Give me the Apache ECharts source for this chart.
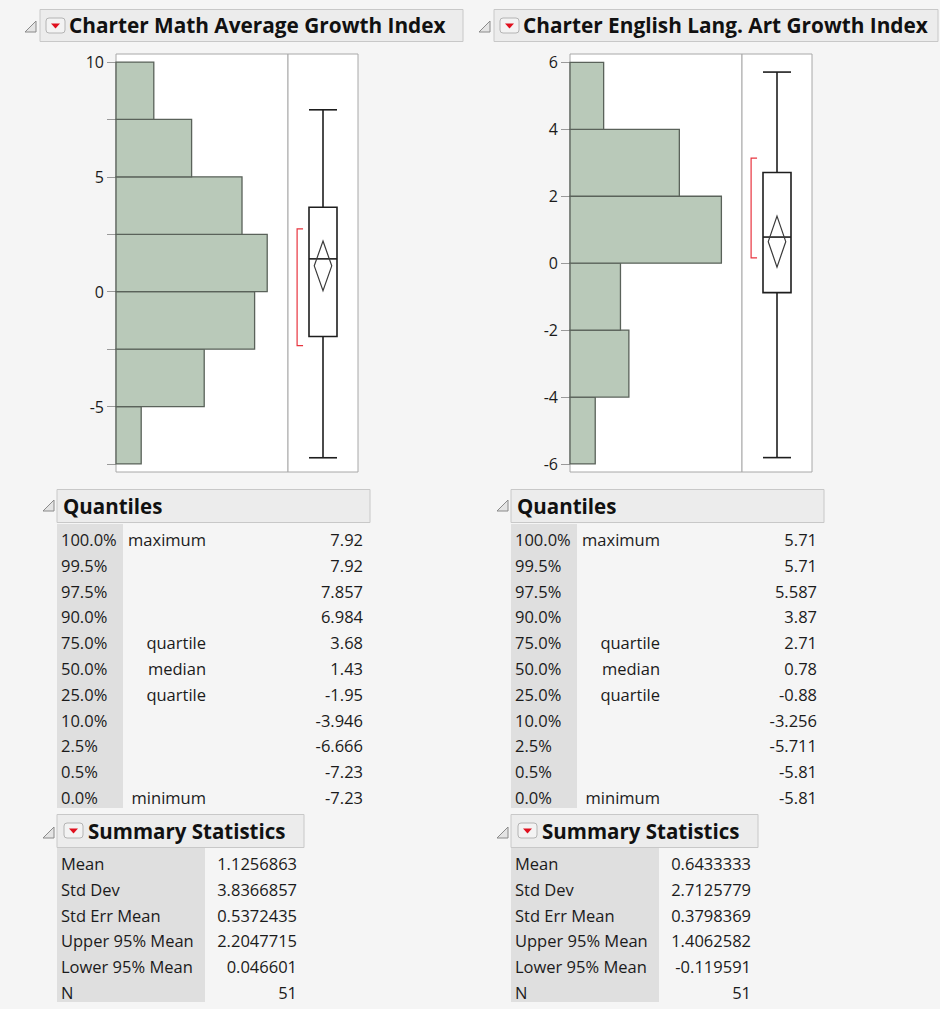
<!DOCTYPE html>
<html>
<head>
<meta charset="utf-8">
<script src="https://cdn.jsdelivr.net/npm/echarts@6/dist/echarts.min.js"></script>
<style>
  html, body { margin: 0; padding: 0; background: #f5f5f5; }
  #chart { width: 940px; height: 1009px; }
</style>
</head>
<body>
<div id="chart"></div>
<script>
// ---------------- DATA ----------------
const mathTitle = 'Charter Math Average Growth Index';
const elaTitle = 'Charter English Lang. Art Growth Index';

// histogram bins: lower edges, bin width, counts
const mathBinLo = [-7.5, -5, -2.5, 0, 2.5, 5, 7.5];
const mathBinWidth = 2.5;
const mathCounts = [2, 7, 11, 12, 10, 6, 3];

const elaBinLo = [-6, -4, -2, 0, 2, 4];
const elaBinWidth = 2;
const elaCounts = [3, 7, 6, 18, 13, 4];

// axis ticks
const mathTickValues = [-7.5, -5, -2.5, 0, 2.5, 5, 7.5, 10];
const mathTickLabels = [-5, 0, 5, 10];
const elaTickValues = [-6, -4, -2, 0, 2, 4, 6];
const elaTickLabels = [-6, -4, -2, 0, 2, 4, 6];

// quantiles table
const quantilePcts = ['100.0%', '99.5%', '97.5%', '90.0%', '75.0%', '50.0%', '25.0%', '10.0%', '2.5%', '0.5%', '0.0%'];
const quantileNames = ['maximum', '', '', '', 'quartile', 'median', 'quartile', '', '', '', 'minimum'];
const mathQuantiles = [7.92, 7.92, 7.857, 6.984, 3.68, 1.43, -1.95, -3.946, -6.666, -7.23, -7.23];
const elaQuantiles = [5.71, 5.71, 5.587, 3.87, 2.71, 0.78, -0.88, -3.256, -5.711, -5.81, -5.81];

// summary statistics
const summaryLabels = ['Mean', 'Std Dev', 'Std Err Mean', 'Upper 95% Mean', 'Lower 95% Mean', 'N'];
const mathSummary = ['1.1256863', '3.8366857', '0.5372435', '2.2047715', '0.046601', '51'];
const elaSummary = ['0.6433333', '2.7125779', '0.3798369', '1.4062582', '-0.119591', '51'];

// shortest half bracket
const mathShortestHalf = [-2.35, 2.74];
const elaShortestHalf = [0.16, 3.14];

// ---------------- LAYOUT ----------------
const FONT = '"Open Sans", "Noto Sans", sans-serif';
const panels = [
  { ox: 0, title: mathTitle, titleW: 423, binLo: mathBinLo, bw: mathBinWidth, counts: mathCounts,
    yMin: -7.85, yMax: 10.35, histMax: 13.65, ticks: mathTickValues, labels: mathTickLabels,
    quant: mathQuantiles, summ: mathSummary, half: mathShortestHalf },
  { ox: 454, title: elaTitle, titleW: 444, binLo: elaBinLo, bw: elaBinWidth, counts: elaCounts,
    yMin: -6.24, yMax: 6.25, histMax: 20.45, ticks: elaTickValues, labels: elaTickLabels,
    quant: elaQuantiles, summ: elaSummary, half: elaShortestHalf }
];

const grids = [], xAxes = [], yAxes = [], series = [], graphics = [];

function txt(text, x, y, opt) {
  opt = opt || {};
  return {
    type: 'text', silent: true, z: 10,
    style: {
      text: text, x: x, y: y,
      fontFamily: FONT, fontSize: opt.size || 16.5, fontWeight: opt.weight || 'normal',
      fill: opt.color || '#1b1b1b',
      align: opt.align || 'left', textAlign: opt.align || 'left',
      verticalAlign: 'middle', textVerticalAlign: 'middle'
    }
  };
}
function rect(x, y, w, h, fill, stroke, r) {
  return { type: 'rect', silent: true, z: 5,
    shape: { x: x, y: y, width: w, height: h, r: r || 0 },
    style: { fill: fill, stroke: stroke || null, lineWidth: 1 } };
}
function disclosure(x, y) { // small open-disclosure triangle
  return { type: 'polygon', silent: true, z: 6,
    shape: { points: [[x + 11, y], [x + 11, y + 11], [x, y + 11]] },
    style: { fill: '#e4e4e4', stroke: '#8a8a8a', lineWidth: 1 } };
}
function redMenu(x, y) {
  return [
    rect(x, y, 19, 15, '#f3f3f3', '#b4b4b4', 3),
    { type: 'polygon', silent: true, z: 7,
      shape: { points: [[x + 5, y + 5.5], [x + 14, y + 5.5], [x + 9.5, y + 10.5]] },
      style: { fill: '#e0101e' } }
  ];
}

panels.forEach(function (p, pi) {
  const ox = p.ox;
  // ----- title header -----
  graphics.push(disclosure(25 + ox, 21));
  graphics.push(rect(40 + ox, 9.5, p.titleW, 32, '#ececec', '#c8c8c8'));
  graphics.push.apply(graphics, redMenu(46 + ox, 18));
  graphics.push(txt(p.title, 69 + ox, 25, { size: 20.8, weight: 'bold', color: '#111' }));

  // ----- grids -----
  const gH = pi * 2, gB = pi * 2 + 1;
  grids.push({ left: 116 + ox, top: 54, width: 172, height: 418, show: true,
    backgroundColor: '#ffffff', borderColor: '#a8a8a8', borderWidth: 1 });
  grids.push({ left: 288 + ox, top: 54, width: 70, height: 418, show: true,
    backgroundColor: '#ffffff', borderColor: '#a8a8a8', borderWidth: 1 });

  xAxes.push({ gridIndex: gH, type: 'value', min: 0, max: p.histMax, show: false });
  xAxes.push({ gridIndex: gB, type: 'value', min: 0, max: 1, show: false });
  yAxes.push({ gridIndex: gH, type: 'value', min: p.yMin, max: p.yMax,
    axisLine: { show: false }, splitLine: { show: false },
    axisTick: { show: true, length: 9, customValues: p.ticks, lineStyle: { color: '#9a9a9a', width: 1 } },
    axisLabel: { show: true, customValues: p.labels, margin: 12, color: '#1b1b1b',
      fontSize: 16, fontFamily: FONT } });
  yAxes.push({ gridIndex: gB, type: 'value', min: p.yMin, max: p.yMax, show: false });

  // ----- histogram -----
  series.push({
    type: 'custom', xAxisIndex: gH, yAxisIndex: gH, z: 3,
    data: p.binLo.map(function (lo, i) { return [lo, lo + p.bw, p.counts[i]]; }),
    renderItem: function (params, api) {
      const a = api.coord([0, api.value(1)]);
      const b = api.coord([api.value(2), api.value(0)]);
      return { type: 'rect',
        shape: { x: a[0], y: a[1], width: b[0] - a[0], height: b[1] - a[1] },
        style: { fill: '#b9c9b9', stroke: '#5a625a', lineWidth: 1.3 } };
    }
  });

  // ----- box plot -----
  const q = p.quant;
  const boxRow = [q[10], q[6], q[5], q[4], q[0],
    parseFloat(p.summ[0]), parseFloat(p.summ[4]), parseFloat(p.summ[3]), p.half[0], p.half[1]];
  series.push({
    type: 'custom', xAxisIndex: gB, yAxisIndex: gB, z: 4,
    data: [boxRow],
    renderItem: function (params, api) {
      const v = function (i) { return api.value(i); };
      const P = function (x, y) { return api.coord([x, y]); };
      const mn = v(0), q1 = v(1), md = v(2), q3 = v(3), mx = v(4), mean = v(5), lo = v(6), hi = v(7), sl = v(8), sh = v(9);
      const ls = { stroke: '#1e1e1e', lineWidth: 1.6, fill: null };
      function line(a, b, st) { return { type: 'line', shape: { x1: a[0], y1: a[1], x2: b[0], y2: b[1] }, style: st || ls }; }
      const bt = P(0.3, q3), bb = P(0.7, q1);
      return { type: 'group', children: [
        line(P(0.5, mx), P(0.5, q3)),
        line(P(0.5, q1), P(0.5, mn)),
        line(P(0.3, mx), P(0.7, mx)),
        line(P(0.3, mn), P(0.7, mn)),
        { type: 'rect', shape: { x: bt[0], y: bt[1], width: bb[0] - bt[0], height: bb[1] - bt[1] },
          style: { fill: '#ffffff', stroke: '#1e1e1e', lineWidth: 1.6 } },
        line(P(0.3, md), P(0.7, md)),
        { type: 'polygon', shape: { points: [P(0.5, hi), P(0.625, mean), P(0.5, lo), P(0.375, mean)] },
          style: { fill: null, stroke: '#3a3a3a', lineWidth: 1.2 } },
        { type: 'polyline', shape: { points: [P(0.215, sh), P(0.13, sh), P(0.13, sl), P(0.215, sl)] },
          style: { fill: null, stroke: '#e8343f', lineWidth: 1.2 } }
      ] };
    }
  });

  // ----- quantiles table -----
  graphics.push(disclosure(43 + ox, 500));
  graphics.push(rect(57 + ox, 489.5, 313, 33, '#ececec', '#c8c8c8'));
  graphics.push(txt('Quantiles', 63 + ox, 505.5, { size: 20.5, weight: 'bold', color: '#111' }));
  graphics.push(rect(57 + ox, 524, 66, 284, '#dfdfdf'));
  quantilePcts.forEach(function (pct, i) {
    const y = 539.5 + i * 25.8;
    graphics.push(txt(pct, 61 + ox, y));
    if (quantileNames[i]) graphics.push(txt(quantileNames[i], 206 + ox, y, { align: 'right' }));
    graphics.push(txt(String(q[i]), 363 + ox, y, { align: 'right' }));
  });

  // ----- summary statistics -----
  graphics.push(disclosure(43 + ox, 827));
  graphics.push(rect(57 + ox, 814.5, 247, 33, '#ececec', '#c8c8c8'));
  graphics.push.apply(graphics, redMenu(64 + ox, 823));
  graphics.push(txt('Summary Statistics', 88 + ox, 830.5, { size: 20.5, weight: 'bold', color: '#111' }));
  graphics.push(rect(57 + ox, 848, 148, 154, '#dfdfdf'));
  summaryLabels.forEach(function (lab, i) {
    const y = 863.5 + i * 25.8;
    graphics.push(txt(lab, 61 + ox, y));
    graphics.push(txt(p.summ[i], 297 + ox, y, { align: 'right' }));
  });
});

const chart = echarts.init(document.getElementById('chart'), null, { renderer: 'svg', width: 940, height: 1009 });
chart.setOption({
  backgroundColor: '#f5f5f5',
  animation: false,
  grid: grids,
  xAxis: xAxes,
  yAxis: yAxes,
  series: series,
  graphic: { elements: graphics }
});
</script>
</body>
</html>
